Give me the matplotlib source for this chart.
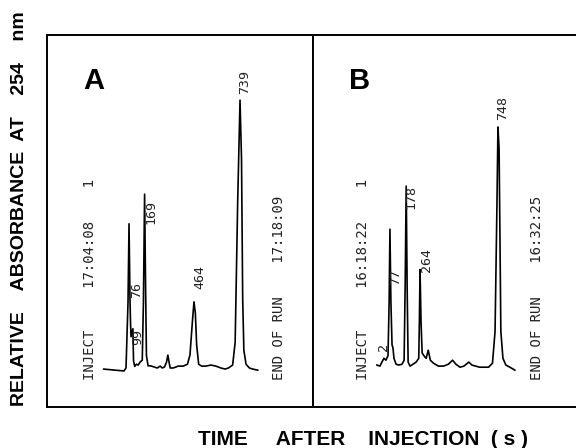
import matplotlib
matplotlib.use("Agg")
import matplotlib.pyplot as plt

# ---- chromatogram A (time in s, relative absorbance) ----
time_a = [-75, -8, 46, 58, 70, 76, 82, 85, 88, 99, 103, 110, 120, 131, 142, 155,
          162, 169, 175, 180, 190, 205, 225, 245, 262, 275, 288, 300, 308, 315,
          322, 340, 370, 400, 425, 440, 455, 464, 472, 480, 492, 510, 535, 565,
          595, 625, 650, 670, 695, 710, 725, 739, 748, 755, 762, 775, 795, 815, 845]
abs_a = [0, -0.4, -0.7, 0.4, 25, 54, 25, 17, 12, 15, 3, 1, 1.8, 1.5, 2.6, 3.3,
         25, 65, 30, 5, 1.2, 1.2, 0.8, 0.4, 1.1, 0.4, 0.8, 2.6, 5.2, 2.6,
         0.4, 0.4, 1.1, 1.1, 1.8, 5.2, 18, 25, 21, 9, 1.8, 1.1, 1.1, 1.5,
         1.1, 0.4, 0, 0.4, 1.5, 10, 62, 100, 78, 26, 7, 1.8, 0.4, 0, -0.4]

# peak labels A: text, time, height
peaks_a = ["739", "464", "169", "76", "99"]
peak_t_a = [769, 500, 207, 124, 130]
peak_y_a = [106.7, 34.2, 58.4, 29.4, 11.9]

# ---- chromatogram B ----
time_b = [-4, 15, 27, 40, 52, 65, 72, 77, 83, 90, 96, 102, 115, 133, 152, 165,
          172, 178, 184, 190, 202, 220, 240, 256, 260, 264, 270, 277, 290, 302,
          315, 328, 347, 378, 410, 440, 466, 487, 512, 537, 567, 586, 610, 634,
          660, 690, 714, 730, 742, 748, 755, 760, 766, 779, 797, 822, 853]
abs_b = [1.5, 1.1, 2.6, 4, 3.3, 5, 25, 52, 25, 9, 7.8, 4, 1.8, 1.5, 1.8, 3.3,
         33, 68, 30, 2.6, 1.1, 1.8, 2.6, 4, 18, 37, 18, 6, 4.8, 4,
         7, 3.3, 2.2, 1.1, 1.1, 1.8, 3.3, 1.8, 0.7, 1.1, 2.6, 1.5, 1.1, 0.7,
         0.7, 0.7, 2.2, 14, 62, 90, 82, 52, 14, 4, 1.5, 0.7, -0.4]

peaks_b = ["748", "178", "264", "77", "2"]
peak_t_b = [779, 207, 307, 114, 40]
peak_y_b = [97, 64, 40.5, 34.2, 8.2]

inject_a = "INJECT     17:04:08    1"
end_a = "END OF RUN    17:18:09"
inject_b = "INJECT     16:18:22    1"
end_b = "END OF RUN    16:32:25"

W, H = 576, 448
fig = plt.figure(figsize=(W / 100, H / 100), dpi=100)

ax_a = fig.add_axes([47 / W, (H - 407) / H, (313 - 47) / W, 372 / H])
ax_b = fig.add_axes([313 / W, (H - 407) / H, (600 - 313) / W, 372 / H])

mono = "DejaVu Sans Mono"

def draw_panel(ax, t, y, labels, lt, ly, inject, end, letter, xlim, xinj, xend, xlet):
    ax.plot(t, y, color="black", lw=1.2)
    for lab, tx, ty in zip(labels, lt, ly):
        ax.text(tx, ty, lab, rotation=90, ha="center", va="center",
                fontsize=9.5, family=mono, color="#222222")
    ax.text(xinj, -4, inject, rotation=90, ha="center", va="bottom",
            fontsize=10, family=mono, color="#222222")
    ax.text(xend, -4, end, rotation=90, ha="center", va="bottom",
            fontsize=10, family=mono, color="#222222")
    ax.text(xlet, 107, letter, ha="center", va="center", fontsize=21,
            fontweight="bold", family="Liberation Sans")
    ax.set_xlim(*xlim)
    ax.set_ylim(-14.1, 124.2)
    ax.set_xticks([])
    ax.set_yticks([])
    for s in ax.spines.values():
        s.set_linewidth(1.4)

draw_panel(ax_a, time_a, abs_a, peaks_a, peak_t_a, peak_y_a, inject_a, end_a, "A",
           (-414, 1175), -157, 972, -133)
draw_panel(ax_b, time_b, abs_b, peaks_b, peak_t_b, peak_y_b, inject_b, end_b, "B",
           (-401, 1382), -91, 990, -110)

fig.text(20 / W, (H - 209) / H, "RELATIVE    ABSORBANCE  AT    254    nm",
         rotation=90, ha="center", va="center", fontsize=14, fontweight="bold",
         family="Liberation Sans")
fig.text(198 / W, (H - 439) / H, "TIME     AFTER    INJECTION  ( s )",
         ha="left", va="center", fontsize=15, fontweight="bold",
         family="Liberation Sans")

fig.savefig("out.png", dpi=100)
